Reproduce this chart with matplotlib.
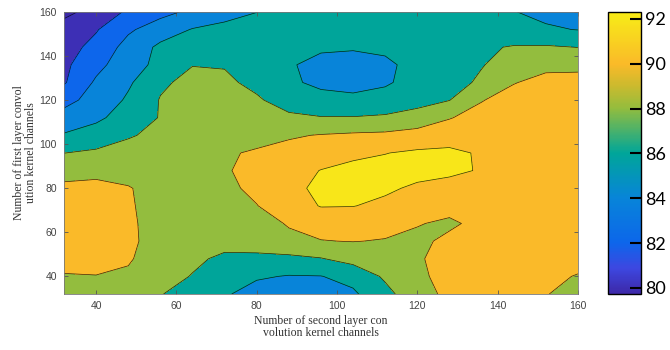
import matplotlib.pyplot as plt
import numpy as np
from matplotlib.colors import LinearSegmentedColormap, Normalize
from matplotlib.cm import ScalarMappable

# grid of channel counts
second_layer = np.arange(32, 161, 8)   # x axis
first_layer = np.arange(32, 161, 8)    # y axis

# accuracy (%), one row per first-layer value, bottom (32) to top (160)
accuracy = np.array([
    [89.4, 89.3, 88.9, 88.1, 87.1, 86.2, 85.3, 84.8, 84.9, 85.7, 87.4, 89.3, 90.4, 90.6, 90.4, 90.05, 89.6],
    [89.9, 89.95, 89.7, 88.8, 87.9, 86.9, 86.2, 85.9, 85.95, 86.6, 88.3, 89.7, 90.5, 90.6, 90.5, 90.2, 89.95],
    [90.5, 90.6, 90.2, 89.0, 88.4, 87.6, 87.4, 87.5, 87.9, 88.7, 89.2, 89.85, 90.5, 90.9, 90.9, 90.6, 90.3],
    [90.6, 90.7, 90.3, 89.4, 88.7, 88.7, 89.2, 89.7, 89.95, 90.05, 89.9, 89.6, 90.4, 90.8, 90.9, 90.7, 90.4],
    [90.6, 90.7, 90.3, 89.3, 88.8, 88.9, 89.5, 90.1, 90.6, 90.8, 90.6, 90.1, 89.7, 90.5, 90.8, 90.7, 90.5],
    [90.5, 90.6, 90.2, 89.3, 88.9, 89.2, 89.95, 91.0, 92.1, 92.05, 91.6, 91.0, 90.6, 90.8, 90.9, 90.8, 90.7],
    [90.4, 90.5, 90.1, 89.4, 89.2, 89.6, 90.4, 91.5, 92.4, 92.6, 92.3, 91.7, 91.3, 91.0, 90.9, 90.8, 90.8],
    [89.3, 89.5, 89.4, 89.3, 89.5, 89.85, 90.5, 91.3, 92.05, 92.5, 92.6, 92.6, 92.4, 91.85, 91.2, 91.1, 91.0],
    [87.98, 88.3, 88.6, 89.0, 89.4, 89.8, 90.2, 90.6, 91.1, 91.6, 91.95, 92.3, 92.4, 91.8, 91.5, 91.5, 91.4],
    [86.2, 86.9, 87.85, 88.4, 88.8, 89.1, 89.4, 89.8, 90.1, 90.3, 90.4, 90.7, 91.1, 91.5, 91.6, 91.5, 91.4],
    [84.6, 85.6, 86.9, 88.1, 88.6, 88.7, 88.6, 88.3, 88.1, 88.1, 88.3, 88.9, 89.9, 90.7, 91.1, 91.2, 91.1],
    [83.5, 84.6, 86.3, 88.1, 88.7, 88.6, 88.2, 87.3, 86.6, 86.4, 86.6, 87.2, 87.95, 89.9, 90.8, 91.0, 90.9],
    [81.8, 84.3, 85.7, 87.7, 88.5, 88.3, 87.6, 86.3, 85.6, 85.4, 85.8, 86.6, 87.3, 88.3, 89.9, 90.6, 90.7],
    [81.6, 83.4, 85.2, 86.5, 87.95, 87.9, 87.2, 86.2, 85.4, 85.2, 85.7, 86.5, 87.1, 87.9, 88.8, 89.5, 89.5],
    [81.2, 82.6, 84.7, 86.4, 87.0, 87.3, 87.2, 86.7, 86.3, 86.2, 86.3, 86.8, 87.3, 87.7, 88.15, 88.2, 87.97],
    [80.8, 81.85, 83.7, 85.0, 86.1, 86.6, 86.9, 87.0, 86.9, 86.8, 86.9, 87.0, 87.0, 86.8, 86.5, 86.2, 85.95],
    [79.5, 80.7, 82.3, 83.4, 84.4, 85.2, 85.97, 86.5, 86.6, 86.7, 86.7, 86.6, 86.5, 86.3, 86.05, 85.6, 85.2],
])

levels = [78, 80, 82, 84, 86, 88, 90, 92, 94]
cbar_ticks = [80, 82, 84, 86, 88, 90, 92]
x_ticks = [40, 60, 80, 100, 120, 140, 160]
y_ticks = [40, 60, 80, 100, 120, 140, 160]

# parula-like colormap
parula = LinearSegmentedColormap.from_list('parula_like', [
    (0.00, (0.24, 0.16, 0.66)),
    (0.09, (0.24, 0.28, 0.88)),
    (0.18, (0.05, 0.40, 0.92)),
    (0.34, (0.03, 0.52, 0.85)),
    (0.50, (0.00, 0.65, 0.60)),
    (0.66, (0.58, 0.74, 0.24)),
    (0.74, (0.80, 0.73, 0.18)),
    (0.816, (0.98, 0.73, 0.16)),
    (0.975, (0.97, 0.90, 0.10)),
    (1.00, (0.98, 0.92, 0.08)),
])
norm = Normalize(vmin=79.73, vmax=92.31)
# MATLAB colours each band by its lower level
band_colors = [parula(norm(v)) for v in levels[:-1]]

fig = plt.figure(figsize=(6.7, 3.5), dpi=100)
ax = fig.add_axes([0.0955, 0.16, 0.767, 0.806])

ax.contourf(second_layer, first_layer, accuracy, levels=levels, colors=band_colors)
ax.contour(second_layer, first_layer, accuracy, levels=levels[1:-1],
           colors='k', linewidths=0.5, alpha=0.8)

ax.set_xlim(32, 160)
ax.set_ylim(32, 160)
ax.set_xticks(x_ticks)
ax.set_yticks(y_ticks)
ax.tick_params(direction='in', length=3, width=0.6, color='#555555',
               labelsize=7.5, labelcolor='#444444', top=True, right=True, pad=5)
for lab in ax.get_xticklabels() + ax.get_yticklabels():
    lab.set_family('Liberation Sans')
for s in ax.spines.values():
    s.set_color('#777777')
    s.set_linewidth(0.6)

ax.set_xlabel('Number of second layer con\nvolution kernel channels',
              family='Liberation Serif', fontsize=8.5, color='#333333',
              labelpad=3, linespacing=1.0)
ax.set_ylabel('Number of first layer convol\nution kernel channels',
              family='Liberation Serif', fontsize=8.5, color='#333333',
              labelpad=2, linespacing=1.0)

cax = fig.add_axes([0.9075, 0.16, 0.049, 0.806])
cb = fig.colorbar(ScalarMappable(norm=norm, cmap=parula), cax=cax, ticks=cbar_ticks)
cb.outline.set_linewidth(1.0)
cb.outline.set_edgecolor('k')
cax.tick_params(direction='in', length=8, width=1.5, color='k',
                labelsize=13, pad=3)
for lab in cax.get_yticklabels():
    lab.set_family('Lato')

fig.savefig('out.png', dpi=100)
